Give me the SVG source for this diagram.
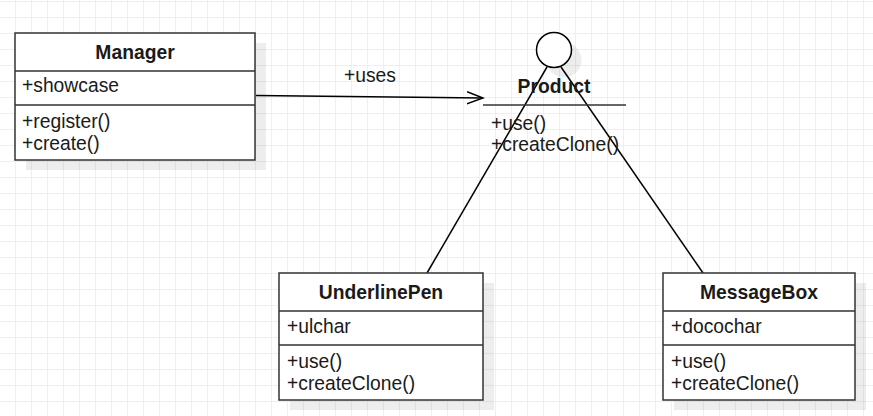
<svg xmlns="http://www.w3.org/2000/svg" width="873" height="416" viewBox="0 0 873 416">
<defs>
<pattern id="grid" x="15" y="1" width="16" height="16" patternUnits="userSpaceOnUse">
<path d="M0.5 0V16M0 0.5H16" stroke="#efefef" stroke-width="1" fill="none"/>
</pattern>
<marker id="open" markerWidth="18" markerHeight="14" refX="16" refY="7" orient="auto" markerUnits="userSpaceOnUse">
<path d="M0 1L16 7L0 13" fill="none" stroke="#000" stroke-width="1.5"/>
</marker>
</defs>
<style>
text{font-family:"Liberation Sans",Arial,sans-serif;font-size:19.3px;fill:#1a1a1a}
.t{font-weight:bold;text-anchor:middle}
.box{fill:#fff;stroke:#333;stroke-width:1.5}
.sh{fill:#000;fill-opacity:0.07}
.sep{stroke:#333;stroke-width:1.5}
.edge{stroke:#000;stroke-width:1.5;fill:none}
</style>
<rect width="873" height="416" fill="#fff"/>
<rect width="873" height="416" fill="url(#grid)"/>

<g id="edges">
<path class="edge" d="M256 95.5L483 98" marker-end="url(#open)"/>
<text x="344" y="82">+uses</text>
<path class="edge" d="M547 67L427 273"/>
<path class="edge" d="M561 67L703 273"/>
</g>

<g id="Manager">
<rect class="sh" x="26" y="43" width="240" height="127"/>
<rect class="box" x="15" y="33" width="240" height="127"/>
<path class="sep" d="M15 71H255M15 105H255"/>
<text class="t" x="135" y="59">Manager</text>
<text x="22" y="92">+showcase</text>
<text x="22" y="128">+register()</text>
<text x="22" y="150">+create()</text>
</g>

<g id="Product">
<circle class="sh" cx="564" cy="60" r="17.5"/>
<circle cx="554" cy="50" r="17.5" fill="#fff" stroke="#000" stroke-width="1.5"/>
<path class="sep" d="M483 105H626"/>
<text class="t" x="554" y="93">Product</text>
<text x="491" y="130">+use()</text>
<text x="491" y="151">+createClone()</text>
</g>

<g id="UnderlinePen">
<rect class="sh" x="290" y="283" width="204" height="127"/>
<rect class="box" x="279" y="273" width="204" height="127"/>
<path class="sep" d="M279 311H483M279 345H483"/>
<text class="t" x="381" y="299">UnderlinePen</text>
<text x="287" y="333">+ulchar</text>
<text x="287" y="368">+use()</text>
<text x="287" y="390">+createClone()</text>
</g>

<g id="MessageBox">
<rect class="sh" x="674" y="283" width="192" height="127"/>
<rect class="box" x="663" y="273" width="192" height="127"/>
<path class="sep" d="M663 311H855M663 345H855"/>
<text class="t" x="759" y="299">MessageBox</text>
<text x="671" y="333">+docochar</text>
<text x="671" y="368">+use()</text>
<text x="671" y="390">+createClone()</text>
</g>
</svg>
